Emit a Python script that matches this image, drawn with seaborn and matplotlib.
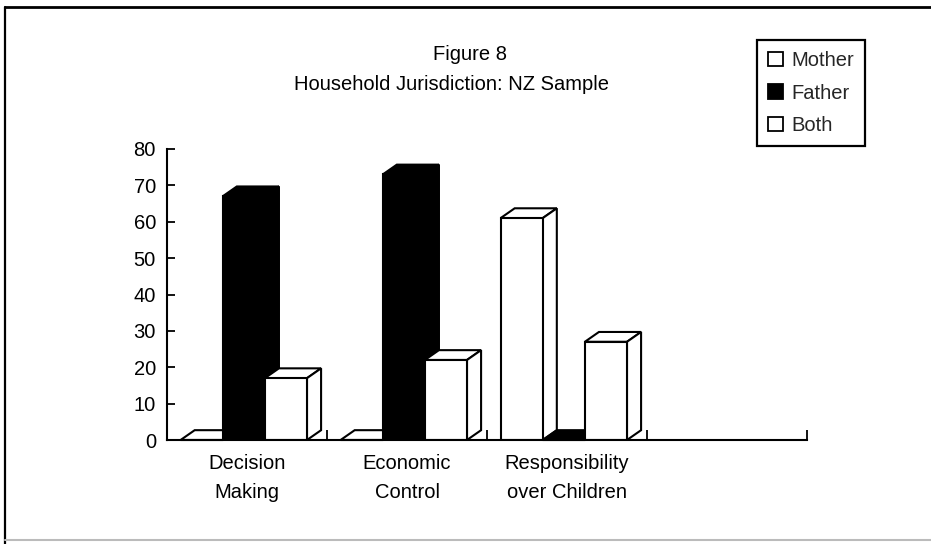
import matplotlib
matplotlib.use("Agg")
import matplotlib.pyplot as plt
from matplotlib.patches import Polygon
from matplotlib.lines import Line2D
from matplotlib.ticker import FixedLocator
import seaborn as sns
import pandas as pd

# Household jurisdiction, NZ sample (percent of respondents)
categories = ["Decision\nMaking", "Economic\nControl", "Responsibility\nover Children"]
parents = ["Mother", "Father", "Both"]
mother = [0, 0, 61]
father = [67, 73, 0]
both = [17, 22, 27]
y_ticks = [0, 10, 20, 30, 40, 50, 60, 70, 80]

rows = []
for name, vals in zip(parents, [mother, father, both]):
    for cat, v in zip(categories, vals):
        rows.append({"category": cat, "parent": name, "percent": v})
df = pd.DataFrame(rows)

sns.set_style("ticks")
plt.rcParams["font.family"] = ["Liberation Sans", "DejaVu Sans"]
FS = 14.5

W, H = 931, 544
fig = plt.figure(figsize=(W / 100, H / 100), dpi=100)
ax = fig.add_axes([167 / W, 1 - 440 / H, (807 - 167) / W, (440 - 149) / H])

palette = {"Mother": "white", "Father": "black", "Both": "white"}
sns.barplot(data=df, x="category", y="percent", hue="parent", order=categories,
            hue_order=parents, palette=palette, edgecolor="black", linewidth=1.5,
            width=0.79, saturation=1, ax=ax)

ax.set_xlim(-0.5, 3.5)
ax.set_ylim(0, 80)

# pseudo-3D depth of each bar (x in category units, y in data units)
dx, dy = 0.088, 2.7
bars = [p for c in ax.containers for p in c.patches]
bars.sort(key=lambda p: p.get_x())
for i, p in enumerate(bars):
    p.set_x(p.get_x() - 0.02)
    x0 = p.get_x()
    x1 = x0 + p.get_width()
    h = p.get_height()
    fc = p.get_facecolor()
    z = 2 + i * 0.01
    top = Polygon([(x0, h), (x1, h), (x1 + dx, h + dy), (x0 + dx, h + dy)],
                  closed=True, facecolor=fc, edgecolor="black", linewidth=1.5,
                  zorder=z, clip_on=False, joinstyle="miter")
    side = Polygon([(x1, 0), (x1 + dx, dy), (x1 + dx, h + dy), (x1, h)],
                   closed=True, facecolor=fc, edgecolor="black", linewidth=1.5,
                   zorder=z, clip_on=False, joinstyle="miter")
    ax.add_patch(top)
    ax.add_patch(side)
    p.set_zorder(z + 0.005)

# axes styling
for s in ["top", "right"]:
    ax.spines[s].set_visible(False)
for s in ["left", "bottom"]:
    ax.spines[s].set_linewidth(1.5)
    ax.spines[s].set_color("black")
    ax.spines[s].set_zorder(10)

ax.set_yticks(y_ticks)
ax.tick_params(axis="y", direction="in", length=6, width=1.3, pad=8,
               labelsize=FS, colors="black")
ax.tick_params(axis="x", which="major", length=0, pad=10, labelsize=FS,
               colors="black")
ax.xaxis.set_minor_locator(FixedLocator([0.5, 1.5, 2.5, 3.5]))
ax.tick_params(axis="x", which="minor", direction="in", length=7, width=1.3,
               colors="black")
ax.set_xlabel("")
ax.set_ylabel("")
for lbl in ax.get_xticklabels():
    lbl.set_linespacing(1.65)

# legend
handles, labels = ax.get_legend_handles_labels()
for h_ in handles:
    h_.set_edgecolor("black")
    h_.set_linewidth(1.3)
ax.legend(handles, labels, loc="upper left",
          bbox_to_anchor=(757 / W, 1 - 40 / H), bbox_transform=fig.transFigure,
          borderaxespad=0, frameon=True, fancybox=False, edgecolor="black",
          framealpha=1, fontsize=FS, handlelength=0.75, handleheight=0.75,
          handletextpad=0.4, labelspacing=0.67, borderpad=0.55)
ax.get_legend().get_frame().set_linewidth(1.6)

# titles
fig.text(470 / W, 1 - 55 / H, "Figure 8", ha="center", va="center",
         fontsize=FS, color="black")
fig.text(452 / W, 1 - 84 / H, "Household Jurisdiction: NZ Sample",
         ha="center", va="center", fontsize=FS, color="black")

# outer frame
fig.add_artist(Line2D([5 / W, 1.0], [1 - 7 / H, 1 - 7 / H], color="black",
                      linewidth=2, transform=fig.transFigure))
fig.add_artist(Line2D([5 / W, 5 / W], [0, 1 - 7 / H], color="black",
                      linewidth=1.6, transform=fig.transFigure))
fig.add_artist(Line2D([5 / W, 1.0], [4 / H, 4 / H], color="#bbbbbb",
                      linewidth=1.5, transform=fig.transFigure))

fig.savefig("out.png", dpi=100)
